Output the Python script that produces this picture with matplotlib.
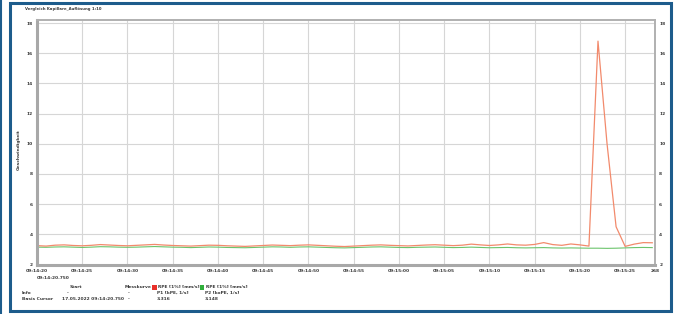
import numpy as np
import matplotlib
matplotlib.use("Agg")
import matplotlib.pyplot as plt
from matplotlib.patches import Rectangle

######################### Data #############################

# seconds since 09:14:20.750
t_sec = list(range(0, 69))

speed_red = [3.25, 3.22, 3.28, 3.30, 3.26, 3.24, 3.27, 3.32, 3.29, 3.26,
             3.24, 3.27, 3.30, 3.33, 3.29, 3.26, 3.24, 3.22, 3.25, 3.28,
             3.27, 3.24, 3.22, 3.20, 3.23, 3.26, 3.29, 3.27, 3.25, 3.28,
             3.30, 3.27, 3.24, 3.21, 3.19, 3.22, 3.25, 3.28, 3.30, 3.27,
             3.25, 3.23, 3.26, 3.29, 3.31, 3.28, 3.25, 3.28, 3.35, 3.30,
             3.26, 3.30, 3.36, 3.30, 3.28, 3.33, 3.45, 3.32, 3.27, 3.36,
             3.30, 3.22, 16.8, 10.0, 4.5, 3.2, 3.35, 3.45, 3.44]

speed_green = [3.15, 3.14, 3.16, 3.17, 3.15, 3.13, 3.15, 3.18, 3.17, 3.15,
               3.14, 3.15, 3.17, 3.19, 3.17, 3.15, 3.14, 3.12, 3.14, 3.16,
               3.15, 3.13, 3.12, 3.11, 3.13, 3.15, 3.17, 3.16, 3.14, 3.16,
               3.17, 3.15, 3.13, 3.11, 3.10, 3.12, 3.14, 3.16, 3.17, 3.15,
               3.13, 3.12, 3.14, 3.15, 3.16, 3.14, 3.12, 3.13, 3.15, 3.13,
               3.11, 3.12, 3.13, 3.11, 3.10, 3.11, 3.12, 3.10, 3.09, 3.10,
               3.09, 3.08, 3.08, 3.07, 3.08, 3.10, 3.12, 3.13, 3.12]

y_ticks = [2, 4, 6, 8, 10, 12, 14, 16, 18]
x_ticks = [0, 5, 10, 15, 20, 25, 30, 35, 40, 45, 50, 55, 60, 65]
x_labels = ["09:14:20", "09:14:25", "09:14:30", "09:14:35", "09:14:40",
            "09:14:45", "09:14:50", "09:14:55", "09:15:00", "09:15:05",
            "09:15:10", "09:15:15", "09:15:20", "09:15:25"]
t_end = 68.3

title = "Vergleich Kapillare_Auflösung 1:10"
y_label = "Geschwindigkeit"
series_names = ["RPE [1%] [mm/s]", "RPE [1%] [mm/s]"]
series_params = ["P1 [kPE, 1/s]", "P2 [koPE, 1/s]"]
series_means = ["3.316", "3.148"]
start_time = "17.05.2022 09:14:20.750"

######################### Plotting #########################

W, H = 679, 314
fig = plt.figure(figsize=(W / 100, H / 100), dpi=100)
fig.patch.set_facecolor("white")

def px(x, y):
    return x / W, 1 - y / H

blue = "#1d5c8c"
tc = "#3a3a3a"
fs = 3.2

# outer frames
fig.add_artist(Rectangle(px(10, 311), 661 / W, 308 / H, fill=False,
                         edgecolor=blue, lw=2.2, transform=fig.transFigure))
fig.add_artist(plt.Line2D([1 / W, 1 / W], [0, 1], color=blue, lw=1.5,
                          transform=fig.transFigure))

left, right, top, bottom = 37, 655, 20, 264.5
ax = fig.add_axes([left / W, 1 - bottom / H, (right - left) / W, (bottom - top) / H])
ax.set_xlim(0, t_end)
ax.set_ylim(2, 18.2)

ax.plot(t_sec, speed_green, color="#6cc46c", lw=0.8)
ax.plot(t_sec, speed_red, color="#f28a6c", lw=0.9)

ax.set_yticks(y_ticks)
ax.set_xticks(x_ticks + [t_end])
ax.set_xticklabels(x_labels + ["268"])
ax.grid(True, color="#d6d6d6", lw=0.8)
ax.tick_params(labelsize=fs, colors=tc, length=0, pad=3)
ax.tick_params(axis="y", labelright=True, right=False)
for lab in ax.get_xticklabels() + ax.get_yticklabels():
    lab.set_fontweight("bold")

for side in ["left", "bottom"]:
    ax.spines[side].set_color("#a8a8a8")
    ax.spines[side].set_linewidth(2.2)
for side in ["right", "top"]:
    ax.spines[side].set_color("#b0b0b0")
    ax.spines[side].set_linewidth(1.4)

fig.text(*px(25, 9), title, fontsize=2.8, color=tc, va="center", fontweight="bold")
fig.text(*px(19, 150), y_label, fontsize=fs, color=tc, rotation=90,
         va="center", ha="center", fontweight="bold")
fig.text(*px(37, 278), "09:14:20.750", fontsize=fs, color=tc, va="center",
         fontweight="bold")

# bottom table
def cell(x, y, s):
    fig.text(*px(x, y), s, fontsize=fs, color=tc, va="center", fontweight="bold")

cell(70, 287, "Start")
cell(125, 287, "Messkurve")
cell(22, 293, "Info")
cell(22, 299, "Basis Cursor")
cell(67, 293, "-")
cell(62, 299, start_time)
cell(128, 293, "-")
cell(128, 299, "-")
for x0, col, name, par, mean in zip([152, 200], ["#e8302a", "#2fae3a"],
                                    series_names, series_params, series_means):
    fig.add_artist(Rectangle(px(x0, 290), 4.5 / W, 5 / H, facecolor=col,
                             edgecolor="none", transform=fig.transFigure))
    cell(x0 + 6, 287, name)
    cell(x0 + 5, 293, par)
    cell(x0 + 5, 299, mean)

fig.savefig("out.png", dpi=100)
